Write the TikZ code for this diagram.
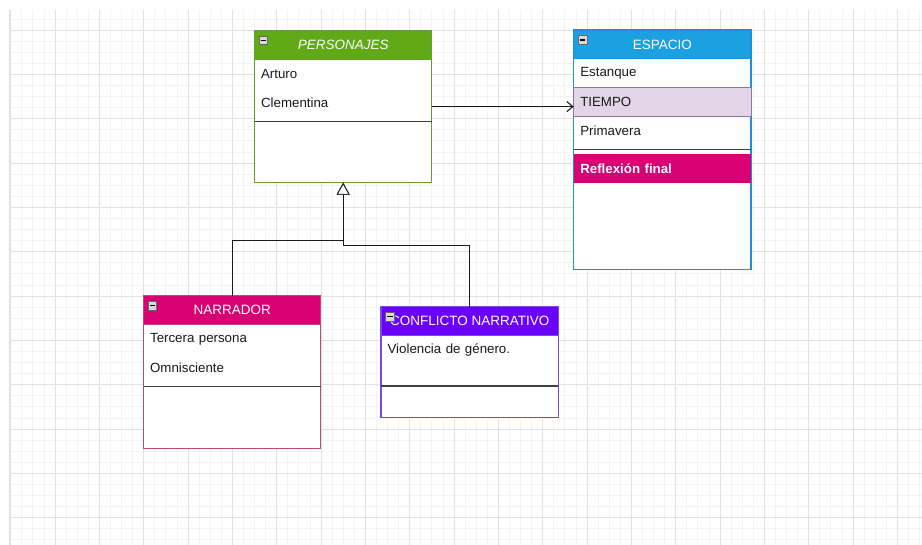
\documentclass[tikz,border=0pt]{standalone}
\usepackage{fontspec}
\setmainfont{Liberation Sans}
\usetikzlibrary{arrows.meta,calc}
\definecolor{gmin}{HTML}{F3F3F3}
\definecolor{gmaj}{HTML}{E2E2E2}
\definecolor{hgreen}{HTML}{60A917}
\definecolor{bgreen}{HTML}{5EA22E}
\definecolor{hblue}{HTML}{1BA1E2}
\definecolor{bblue}{HTML}{1A8EE0}
\definecolor{hpink}{HTML}{D80073}
\definecolor{bpink}{HTML}{C2457A}
\definecolor{hpurple}{HTML}{6A00FF}
\definecolor{bpurple}{HTML}{7A4AE8}
\definecolor{lilac}{HTML}{E1D5E7}
\definecolor{lilacb}{HTML}{9673A6}
\definecolor{txt}{HTML}{1A1A1A}
\newcommand\classbox[7]{%
  \node[frame, draw=#6, minimum height=#4] (#1) at (#2,#3) {};
  \node[headbox, fill=#5, draw=#6] (#1-h) at (#2,#3) {#7};
  \node[iconbox] (#1-i) at ($(#1.north west)+(9,10)$) {};
  \draw[black, line width=1.3pt] ($(#1-i.center)+(-2.6,0)$) -- ($(#1-i.center)+(2.6,0)$);
}
\begin{document}
\begin{tikzpicture}[x=1pt,y=-1pt,
  gridminor/.style={gmin, line width=0.7pt},
  gridmajor/.style={gmaj, line width=0.8pt},
  frame/.style={draw, fill=white, anchor=north west, inner sep=0pt, outer sep=0pt,
    minimum width=177.3pt, line width=1.1pt},
  headbox/.style={anchor=north west, inner sep=0pt, outer sep=0pt, minimum width=177.3pt,
    minimum height=28.8pt, text=white, font=\fontsize{13.5}{16}\selectfont, line width=1.1pt},
  iconbox/.style={draw=gray!80!black, fill=gray!30, minimum size=8.5pt, inner sep=0pt, line width=0.7pt},
  rowtxt/.style={anchor=north west, inner ysep=0pt, inner xsep=6.6pt, outer sep=0pt,
    minimum height=28.8pt, text width=164pt, align=left, text=txt,
    font=\fontsize{13.3}{16}\selectfont},
  sepline/.style={draw=black!75, line width=1.1pt},
  conn/.style={draw=black!90, line width=0.9pt}
]
\useasboundingbox (0,0) rectangle (922,545);
\fill[white] (0,0) rectangle (922,545);
\begin{scope}
  \clip (9,10) rectangle (922,545);
  \foreach \i in {0,...,82} \draw[gridminor] ({10.67+\i*11.083},10) -- ++(0,535);
  \foreach \j in {0,...,49} \draw[gridminor] (9,{7.83+\j*11.083}) -- ++(913,0);
  \foreach \i in {0,...,20} \draw[gridmajor] ({10.67+\i*44.33},10) -- ++(0,535);
  \foreach \j in {0,...,13} \draw[gridmajor] (9,{-14.33+\j*44.33}) -- ++(913,0);
  \draw[gmaj, line width=1.2pt] (9.6,10) -- (9.6,545);
\end{scope}

% PERSONAJES
\classbox{pers}{254.5}{30.5}{152.2pt}{hgreen}{bgreen}{\itshape PERSONAJES}
\node[rowtxt] (pers-r1) at (pers-h.south west) {Arturo};
\node[rowtxt] (pers-r2) at (pers-r1.south west) {Clementina};
\draw[sepline] ($(pers-r2.south west)+(0,4.4)$) -- ($(pers-r2.south east)+(0,4.4)$);

% ESPACIO
\classbox{esp}{573.7}{30}{239.3pt}{hblue}{bblue}{ESPACIO}
\node[rowtxt] (esp-r1) at (esp-h.south west) {Estanque};
\node[rowtxt, draw=lilacb, fill=lilac, line width=0.8pt] (esp-r2) at (esp-r1.south west) {TIEMPO};
\node[rowtxt] (esp-r3) at (esp-r2.south west) {Primavera};
\draw[sepline] ($(esp-r3.south west)+(0,4.4)$) -- ($(esp-r3.south east)+(0,4.4)$);
\node[rowtxt, fill=hpink, text=white, font=\fontsize{13.3}{16}\selectfont\bfseries] (esp-r4) at ($(esp-r3.south west)+(0,8.8)$) {Reflexión final};

% NARRADOR
\classbox{narr}{143.5}{295.7}{153pt}{hpink}{bpink}{NARRADOR}
\node[rowtxt] (narr-r1) at (narr-h.south west) {Tercera persona};
\node[rowtxt] (narr-r2) at (narr-r1.south west) {Omnisciente};
\draw[sepline] ($(narr-r2.south west)+(0,4.4)$) -- ($(narr-r2.south east)+(0,4.4)$);

% CONFLICTO NARRATIVO
\classbox{conf}{381}{306.7}{111pt}{hpurple}{bpurple}{CONFLICTO NARRATIVO}
\node[rowtxt] (conf-r1) at (conf-h.south west) {Violencia de género.};
\draw[sepline] ($(conf-h.south west)+(0,50.5)$) -- ($(conf-h.south east)+(0,50.5)$);

% connectors
\draw[conn, -{Straight Barb[length=6pt,width=10pt,line width=1.1pt]}] (pers.east) -- (pers.east -| esp.west);
\draw[conn, -{Triangle[length=12pt,width=13pt,fill=white]}] (narr.north) |- ([yshift=-57.3pt]pers.south) -- (pers.south);
\draw[conn, -{Triangle[length=12pt,width=13pt,fill=white]}] (conf.north) |- ([yshift=-62.6pt]pers.south) -- (pers.south);
\end{tikzpicture}
\end{document}
